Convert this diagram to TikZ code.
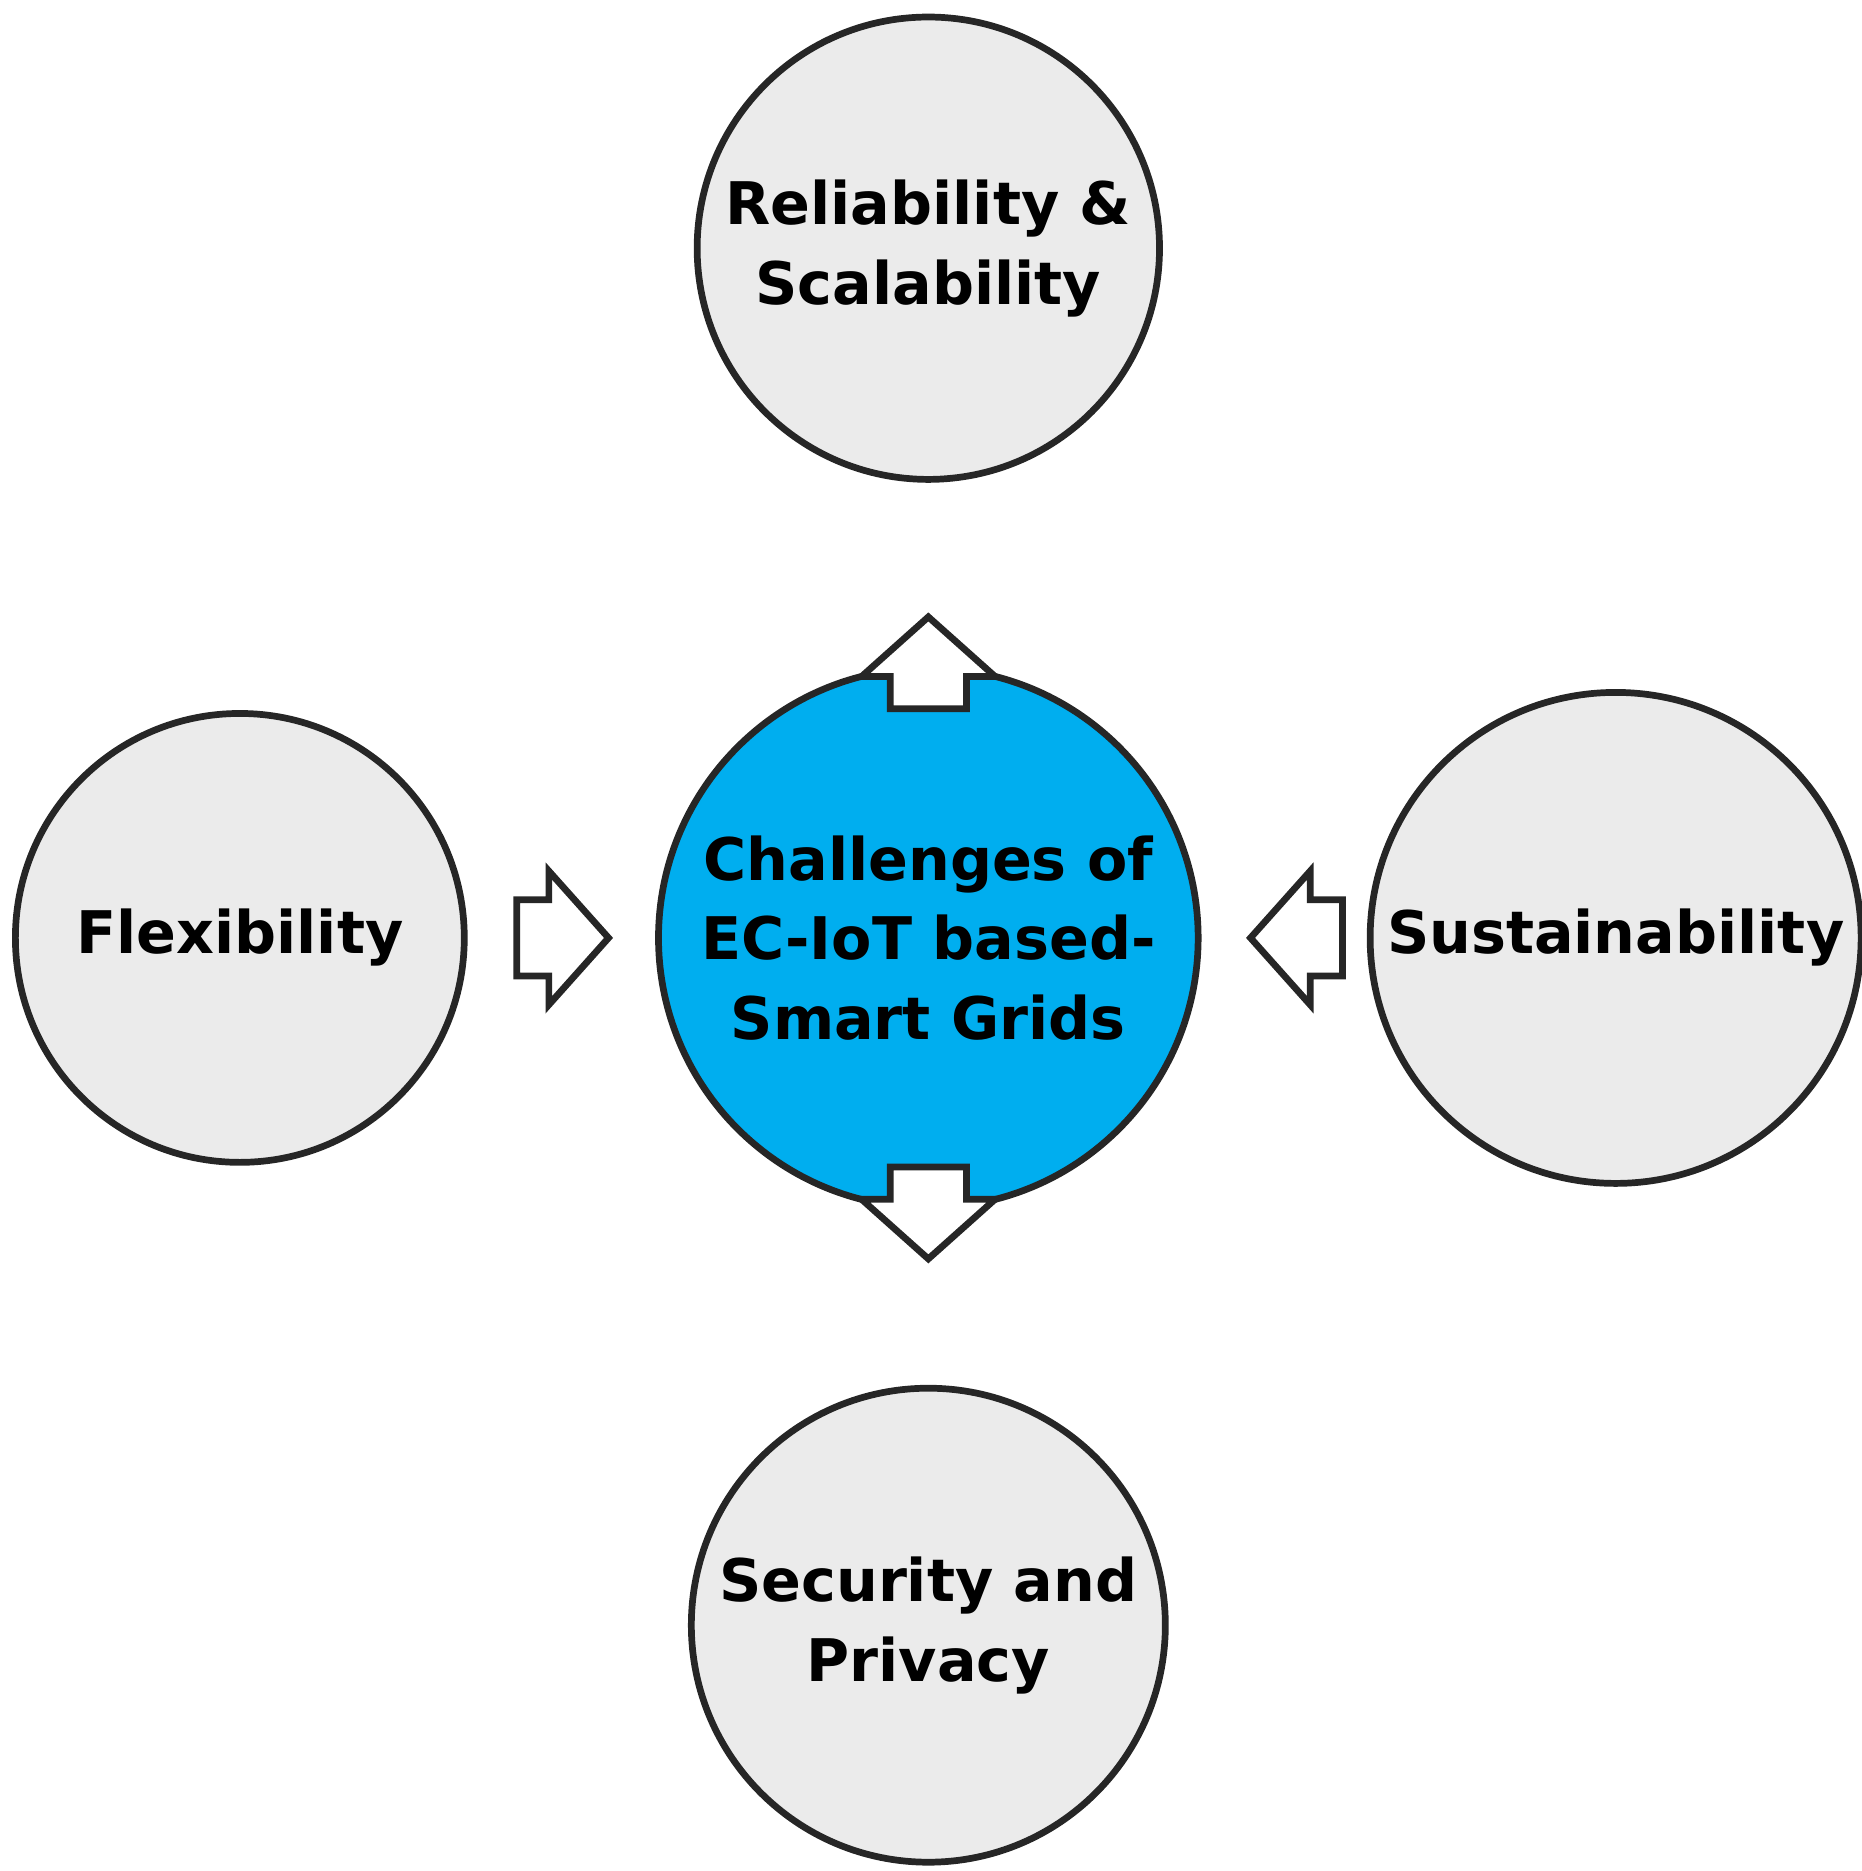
\documentclass[tikz,border=0pt]{standalone}
\usepackage{fontspec}
\setmainfont{DejaVu Sans}
\usetikzlibrary{positioning}
\definecolor{corecyan}{RGB}{0,174,239}
\definecolor{topicgray}{RGB}{235,235,235}
\begin{document}
\begin{tikzpicture}[x=0.01cm, y=-0.01cm,
    topic/.style={circle, draw=black!85, line width=1.6pt, fill=topicgray, minimum size=3.76cm, align=center, font=\fontsize{14}{19}\selectfont\bfseries},
    core/.style={topic, fill=corecyan, minimum size=4.52cm},
    bigarrow/.style={draw=black!85, line width=1.6pt, fill=white, line join=miter}
]
    \useasboundingbox (0,0) rectangle (1560,1568);

    % Centre
    \node[core] (core) at (778,786) {Challenges of\\EC-IoT based-\\Smart Grids};

    % Challenges
    \node[topic] (rel) at (778,208) {Reliability \&\\Scalability};
    \node[topic] (flex) at (201,786) {Flexibility};
    \node[topic] (sust) at (1354,786) {Sustainability};
    \node[topic] (sec) at (778,1362) {Security and\\Privacy};

    % Arrows (tip at origin, pointing along +x)
    \foreach \tx/\ty/\ang in {778/517/90, 778/1055/-90, 510/786/0, 1048/786/180}{
        \draw[bigarrow, shift={(\tx,\ty)}, rotate=\ang]
            (0,0) -- (-50,-56) -- (-50,-32) -- (-77,-32) -- (-77,32) -- (-50,32) -- (-50,56) -- cycle;
    }
\end{tikzpicture}
\end{document}
